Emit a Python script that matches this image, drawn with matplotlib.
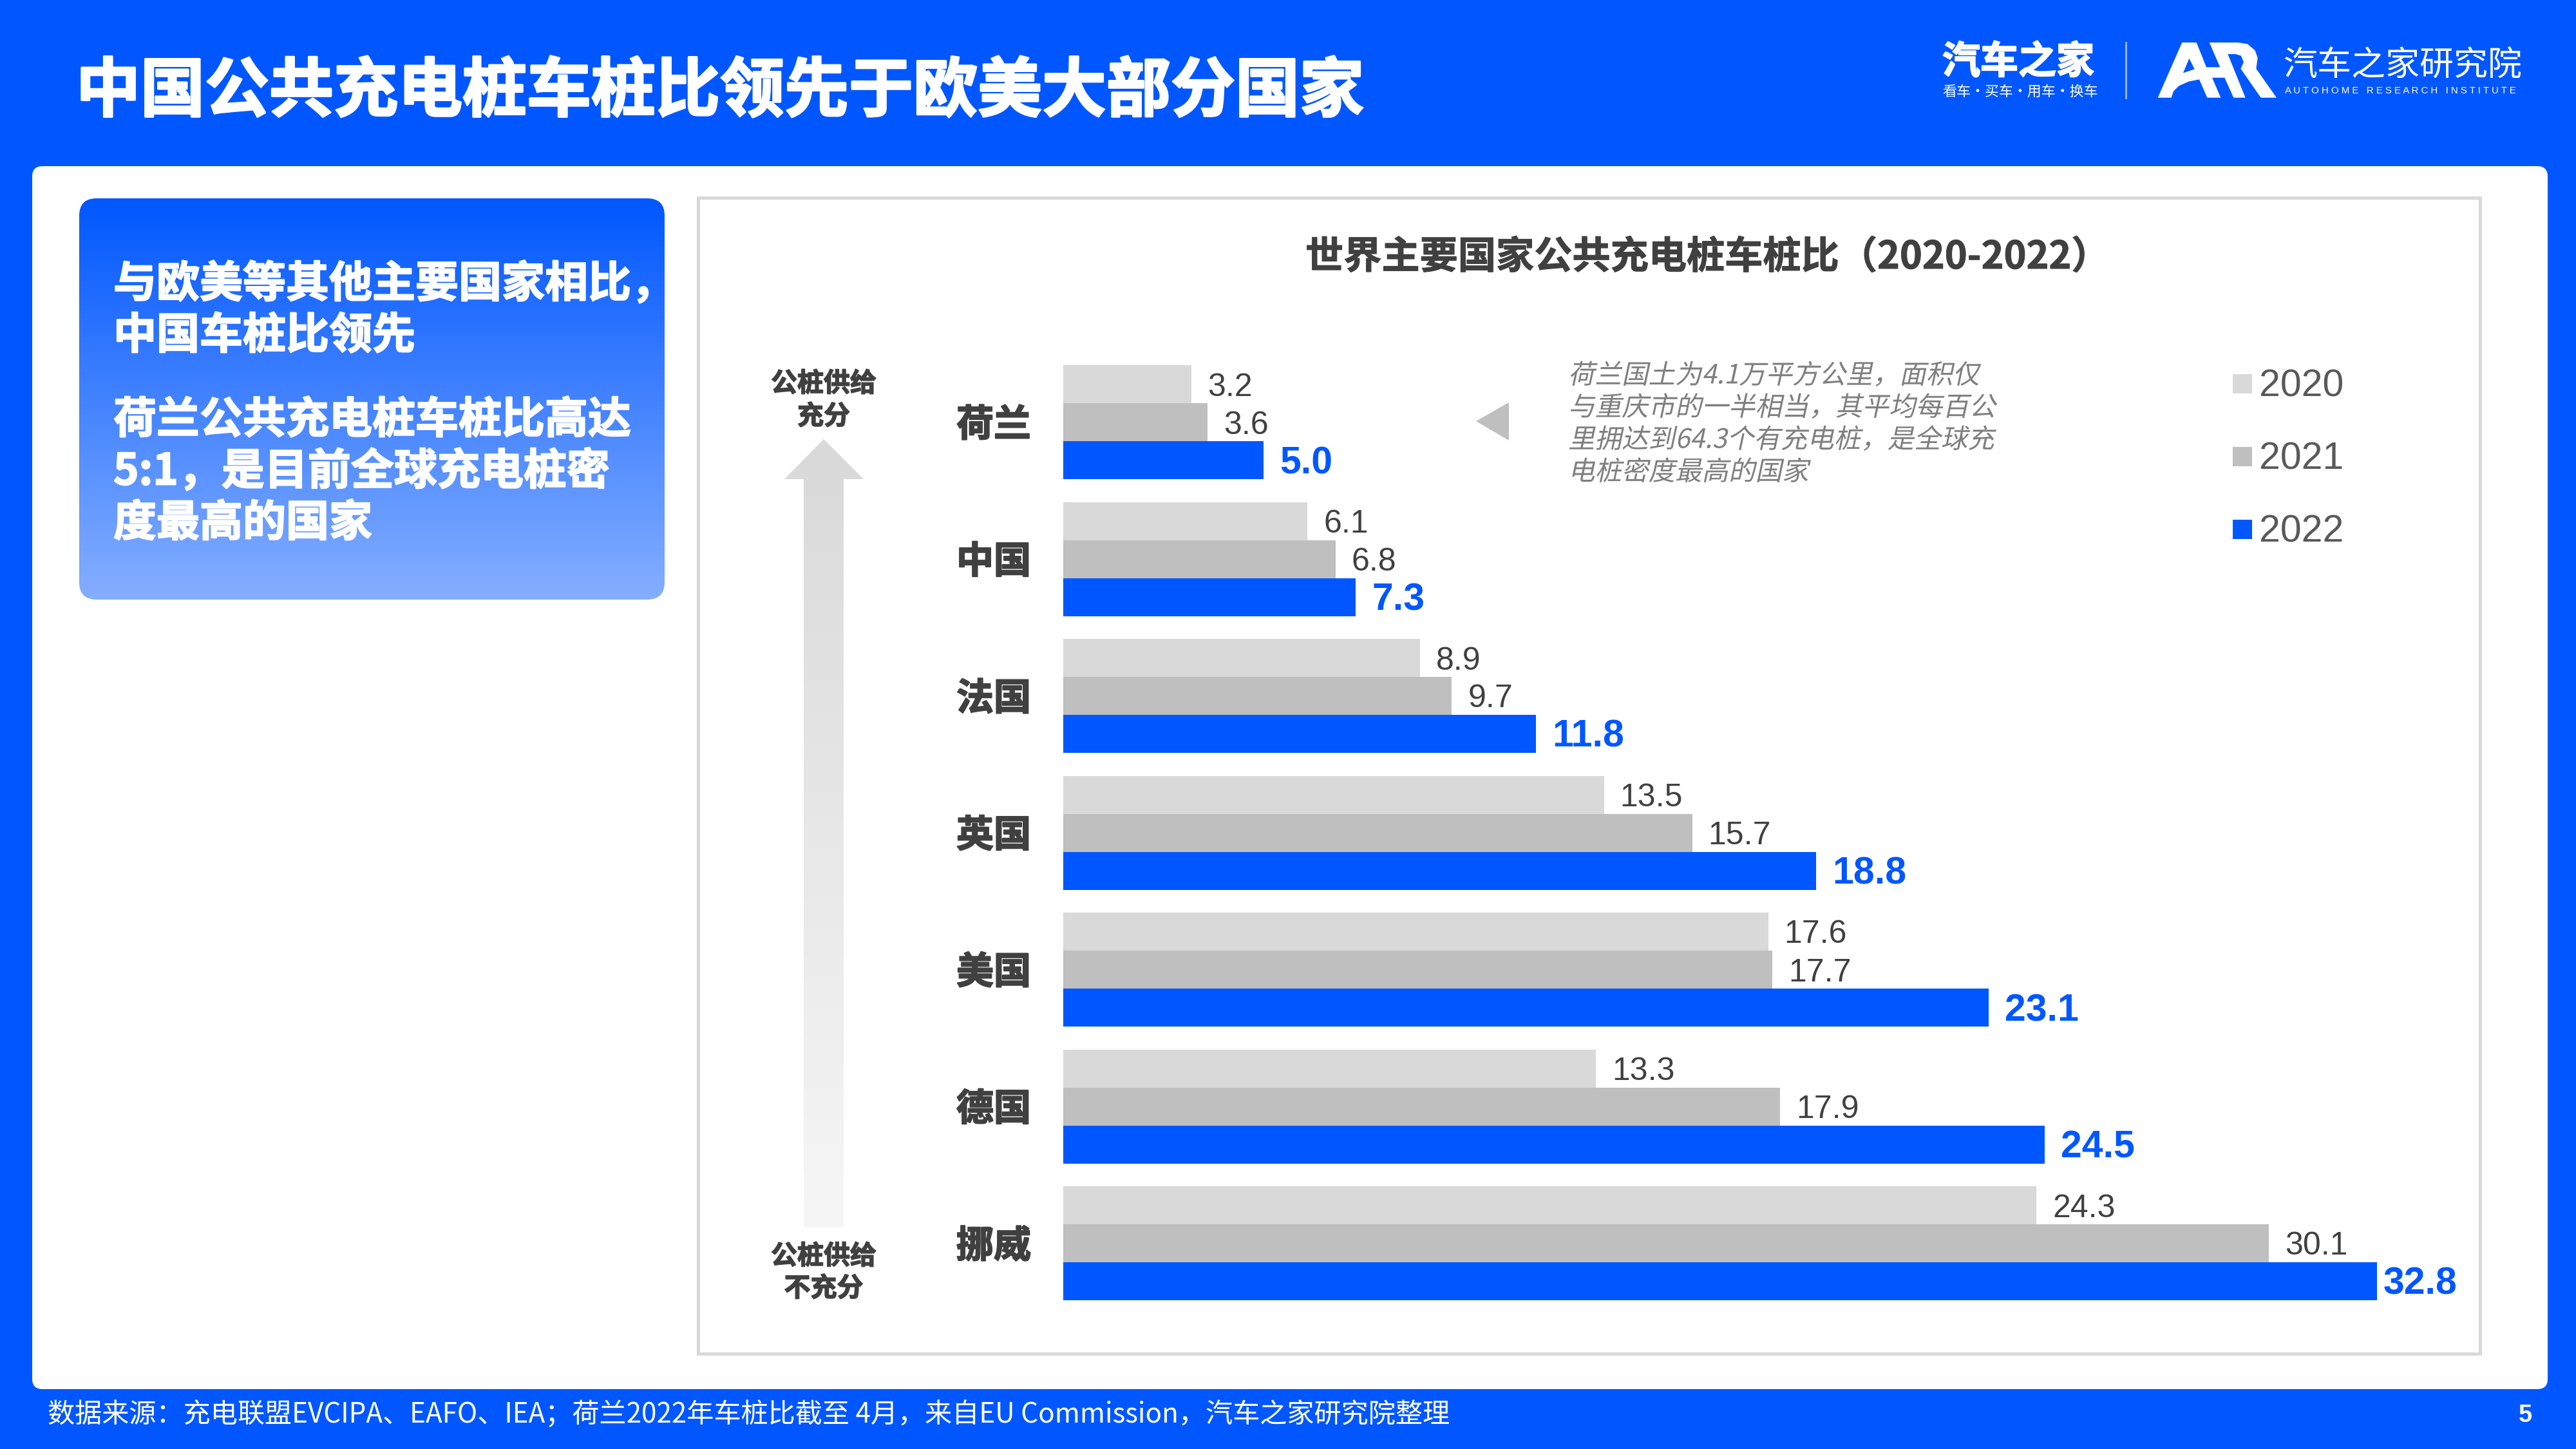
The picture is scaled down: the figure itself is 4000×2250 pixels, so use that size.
import numpy as np
import matplotlib
matplotlib.use("Agg")
import matplotlib.pyplot as plt
from matplotlib.colors import LinearSegmentedColormap
from matplotlib.patches import FancyBboxPatch, Polygon, Rectangle
from matplotlib.patheffects import AbstractPathEffect, Normal, Stroke
from matplotlib.transforms import Affine2D

# =========================
# Data
# =========================
countries = ["荷兰", "中国", "法国", "英国", "美国", "德国", "挪威"]
years = ["2020", "2021", "2022"]
ratio_2020 = [3.2, 6.1, 8.9, 13.5, 17.6, 13.3, 24.3]
ratio_2021 = [3.6, 6.8, 9.7, 15.7, 17.7, 17.9, 30.1]
ratio_2022 = [5.0, 7.3, 11.8, 18.8, 23.1, 24.5, 32.8]

page_title = "中国公共充电桩车桩比领先于欧美大部分国家"
chart_title = "世界主要国家公共充电桩车桩比（2020-2022）"
side_lines = ["与欧美等其他主要国家相比，", "中国车桩比领先",
              "荷兰公共充电桩车桩比高达", "5:1，是目前全球充电桩密", "度最高的国家"]
note_lines = ["荷兰国土为4.1万平方公里，面积仅", "与重庆市的一半相当，其平均每百公",
              "里拥达到64.3个有充电桩，是全球充", "电桩密度最高的国家"]
source_text = "数据来源：充电联盟EVCIPA、EAFO、IEA；荷兰2022年车桩比截至 4月，来自EU Commission，汽车之家研究院整理"

# =========================
# Style
# =========================
plt.rcParams["font.family"] = ["Noto Sans CJK SC", "DejaVu Sans"]

blue = "#0057FF"
light_gray = "#D9D9D9"
mid_gray = "#BFBFBF"
dark_text = "#404040"
W, H = 4000, 2250
DPI = 250


def pt(px):
    # font size given in figure pixels
    return px * 72 / DPI


class Slant(AbstractPathEffect):
    # the CJK fonts have no italic, so lean the glyphs over when drawing
    def draw_path(self, renderer, gc, tpath, affine, rgbFace=None):
        renderer.draw_path(gc, tpath, Affine2D().skew_deg(12, 0) + affine, rgbFace)


def heavy(px, color):
    # Noto's bold is lighter than the heading face in the original
    return [Stroke(linewidth=pt(px), foreground=color), Normal()]


def round_box(x0, y0, x1, y1, r, **kw):
    return FancyBboxPatch((x0 + r, y0 + r), x1 - x0 - 2 * r, y1 - y0 - 2 * r,
                          boxstyle=f"round,pad={r},rounding_size={r}", **kw)


def vertical_gradient(ax, x0, y0, x1, y1, top, bottom, clip):
    cmap = LinearSegmentedColormap.from_list("g", [top, bottom])
    im = ax.imshow(np.linspace(0, 1, 256).reshape(-1, 1), cmap=cmap, aspect="auto",
                   extent=(x0, x1, y1, y0), origin="upper", zorder=2)
    im.set_clip_path(clip)


fig = plt.figure(figsize=(W / DPI, H / DPI), dpi=DPI, facecolor=blue)

# page furniture, in figure pixels
bg = fig.add_axes([0, 0, 1, 1])
bg.set_axis_off()

bg.add_patch(round_box(50, 258, 3956, 2157, 16, fc="white", ec="none", zorder=1))
bg.add_patch(Rectangle((1084, 307), 2767, 1795, fc="none", ec=light_gray, lw=pt(5), zorder=1))

side_box = round_box(123, 308, 1032, 931, 27, fc="none", ec="none", zorder=1)
bg.add_patch(side_box)
vertical_gradient(bg, 123, 308, 1032, 931, blue, "#85AEFF", side_box)

# supply arrow
arrow = Polygon([(1279, 682), (1341, 744), (1310, 744), (1310, 1906),
                 (1248, 1906), (1248, 744), (1218, 744)], fc="none", ec="none", zorder=1)
bg.add_patch(arrow)
vertical_gradient(bg, 1218, 682, 1341, 1906, light_gray, "#F6F6F6", arrow)

# small triangle pointing at the first group
bg.add_patch(Polygon([(2292, 654), (2343, 625), (2343, 684)], fc=mid_gray, ec="none", zorder=3))

bg.text(118, 143, page_title, color="white", fontsize=pt(100), fontweight="bold",
        ha="left", va="center", zorder=5, path_effects=heavy(3, "white"))
bg.text(2027, 400, chart_title, color=dark_text, fontsize=pt(59.2), fontweight="bold",
        ha="left", va="center", zorder=5, path_effects=heavy(1, dark_text))

for line, y in zip(side_lines, [442, 522, 653, 733, 813]):
    bg.text(176, y, line, color="white", fontsize=pt(67), fontweight="bold",
            ha="left", va="center", zorder=5, path_effects=heavy(2, "white"))

for line, y in zip(note_lines, [584, 634, 684, 734]):
    t = bg.text(2435, y, line, color="#7F7F7F", fontsize=pt(41.5),
                ha="left", va="center", zorder=5)
    t.set_path_effects([Slant()])

for line, y in zip(["公桩供给", "充分", "公桩供给", "不充分"], [596, 647, 1951, 2001]):
    bg.text(1279, y, line, color=dark_text, fontsize=pt(41), fontweight="bold",
            ha="center", va="center", zorder=5, path_effects=heavy(1.5, dark_text))

# legend
for year, color, y in zip(years, [light_gray, mid_gray, blue], [596, 709, 822]):
    bg.add_patch(Rectangle((3467, y - 15), 30, 30, fc=color, ec="none", zorder=3))
    bg.text(3508, y + 4, year, color="#595959", fontsize=pt(59), family="Liberation Sans",
            ha="left", va="center", zorder=5)

# footer
bg.text(74, 2198, source_text, color="white", fontsize=pt(42.2), ha="left", va="center", zorder=5)
bg.text(3921, 2198, "5", color="white", fontsize=pt(38), fontweight="bold",
        family="Liberation Sans", ha="center", va="center", zorder=5)

# logos
bg.text(3016, 97, "汽车之家", color="white", fontsize=pt(59), fontweight="bold",
        ha="left", va="center", zorder=5, path_effects=heavy(2, "white"))
bg.text(3016, 143, "看车·买车·用车·换车", color="white", fontsize=pt(22),
        ha="left", va="center", zorder=5)
bg.plot([3301, 3301], [66, 152], color="#8FB4FF", lw=pt(3), zorder=3)

logo = [(32, 290), (145, 33), (212, 33), (258, 148), (322, 148), (272, 33), (405, 33),
        (450, 40), (485, 70), (497, 105), (490, 155), (585, 290), (512, 290), (418, 155),
        (432, 125), (420, 95), (395, 87), (358, 87), (440, 290), (385, 290), (343, 197),
        (285, 197), (325, 290), (262, 290), (225, 205), (175, 215), (130, 235), (105, 260),
        (95, 290)]
logo_hole = [(178, 107), (203, 157), (150, 175)]
to_page = lambda pts: [(3340 + x / 3, 55 + y / 3) for x, y in pts]
bg.add_patch(Polygon(to_page(logo), fc="white", ec="none", zorder=3))
bg.add_patch(Polygon(to_page(logo_hole), fc=blue, ec="none", zorder=4))
bg.text(3545, 102, "汽车之家研究院", color="white", fontsize=pt(53), ha="left", va="center", zorder=5)
bg.text(3548, 141, "A U T O H O M E   R E S E A R C H   I N S T I T U T E", color="white",
        fontsize=pt(15), family="Liberation Sans", ha="left", va="center", zorder=5)

bg.set_xlim(0, W)
bg.set_ylim(H, 0)

# =========================
# Bars
# =========================
px_per_unit = 62.2
group_pitch = 212.5
bar_h = 59 / group_pitch
top_px = 655.5 - group_pitch / 2
n = len(countries)
ax = fig.add_axes([1651 / W, 1 - (top_px + n * group_pitch) / H,
                   35 * px_per_unit / W, n * group_pitch / H])
ax.patch.set_alpha(0)
ax.set_axis_off()
ax.set_xlim(0, 35)
ax.set_ylim(n - 0.5, -0.5)

y = np.arange(n)
series = [ratio_2020, ratio_2021, ratio_2022]
colors = [light_gray, mid_gray, blue]
top_value = max(ratio_2022)
for i, (values, color) in enumerate(zip(series, colors)):
    ypos = y + (i - 1) * bar_h
    ax.barh(ypos, values, height=bar_h, color=color, linewidth=0)
    last = i == 2
    for yp, v in zip(ypos, values):
        # the longest bar's label sits tighter, it runs up to the frame
        gap = 10 if v == top_value else 25
        ax.annotate(f"{v:.1f}", (v, yp), xytext=(pt(gap), pt(-5)), textcoords="offset points",
                    ha="left", va="center", family="Liberation Sans",
                    fontsize=pt(59 if last else 50),
                    fontweight="bold" if last else "normal",
                    color=blue if last else dark_text, annotation_clip=False)

for yp, name in zip(y, countries):
    ax.annotate(name, (0, yp), xytext=(pt(-50), pt(-5)), textcoords="offset points",
                ha="right", va="center", fontsize=pt(58), fontweight="bold", color=dark_text,
                annotation_clip=False, path_effects=heavy(2, dark_text))

fig.savefig("out.png", dpi=DPI, facecolor=blue)
